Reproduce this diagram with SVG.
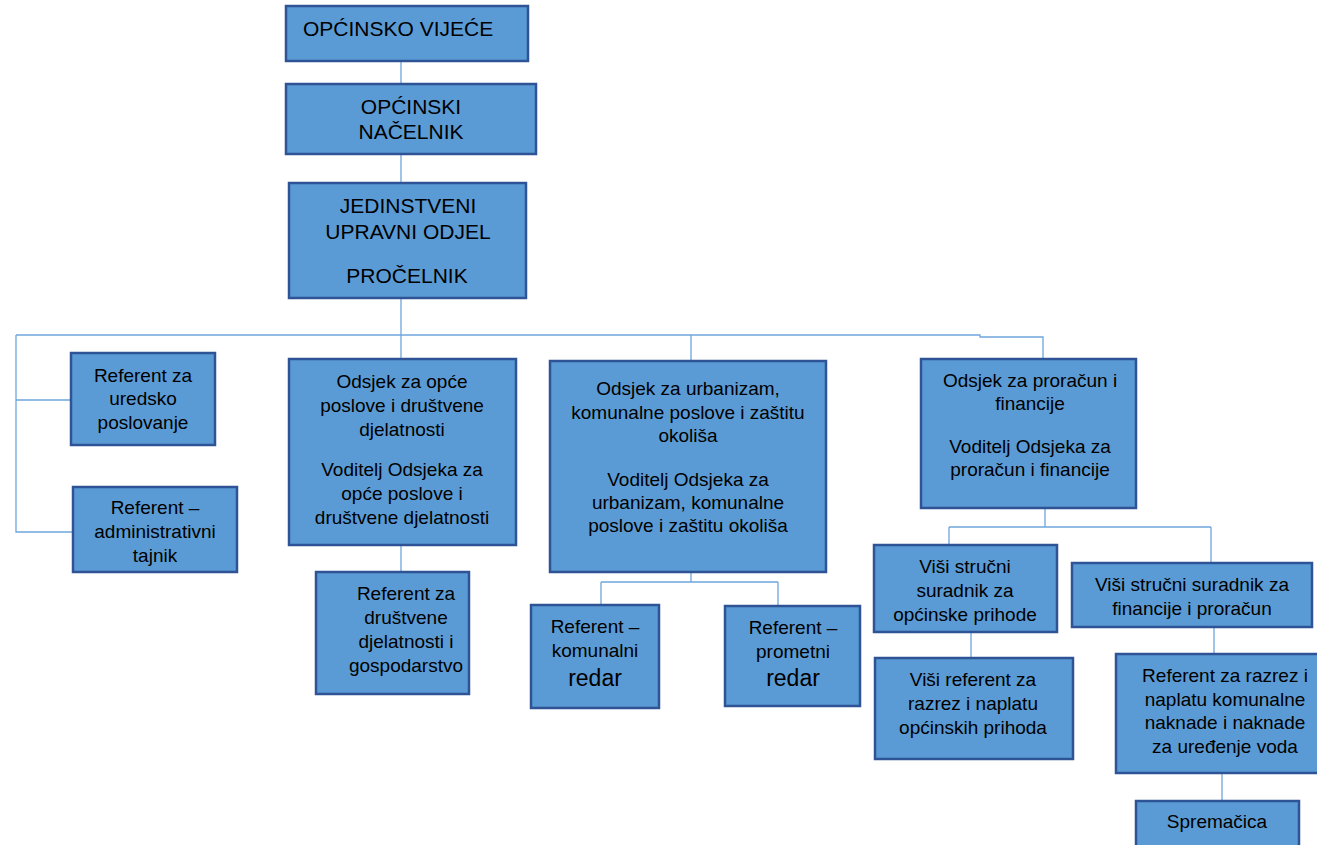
<svg xmlns="http://www.w3.org/2000/svg" width="1317" height="845" viewBox="0 0 1317 845">
<style>
.b{fill:#5B9BD5;stroke:#2F5496;stroke-width:2.5}
.t{font-family:"Liberation Sans",Arial,sans-serif;font-size:19px;fill:#000;text-anchor:middle}
.h{font-size:21px}
.r{font-size:23px}
.c{fill:none;stroke:#6FA6DC;stroke-width:1.3}
</style>
<rect width="1317" height="845" fill="#fff"/>
<g id="connectors" class="c">
<path d="M401 61V84M401 154V183M401 298V359"/>
<path d="M16 335H980V337H1043V359M691 335V361"/>
<path d="M16 335V532H73M16 400H71"/>
<path d="M401 545V572"/>
<path d="M691 572V582M601 582H778M601 582V605M778 582V606"/>
<path d="M1045 508V527M949 527H1211M949 527V545M1211 527V563"/>
<path d="M971 632V658M1214 627V654M1222 773V801"/>
</g>
<g id="vijece"><rect class="b" x="286" y="6" width="242" height="55"/><text class="t h" x="303" y="36" style="text-anchor:start">OPĆINSKO VIJEĆE</text></g>
<g id="nacelnik"><rect class="b" x="286" y="84" width="250" height="70"/><text class="t h" x="411" y="114">OPĆINSKI</text><text class="t h" x="411" y="139">NAČELNIK</text></g>
<g id="jedinstveni"><rect class="b" x="289" y="183" width="237" height="115"/><text class="t h" x="408" y="213">JEDINSTVENI</text><text class="t h" x="408" y="239">UPRAVNI ODJEL</text><text class="t h" x="407" y="283">PROČELNIK</text></g>
<g id="uredsko"><rect class="b" x="71" y="353" width="144" height="92"/><text class="t" x="143" y="382">Referent za</text><text class="t" x="143" y="405">uredsko</text><text class="t" x="143" y="429">poslovanje</text></g>
<g id="tajnik"><rect class="b" x="73" y="487" width="164" height="85"/><text class="t" x="155" y="514">Referent –</text><text class="t" x="155" y="538">administrativni</text><text class="t" x="155" y="562">tajnik</text></g>
<g id="opce"><rect class="b" x="289" y="359" width="227" height="186"/><text class="t" x="402" y="388">Odsjek za opće</text><text class="t" x="402" y="412">poslove i društvene</text><text class="t" x="402" y="436">djelatnosti</text><text class="t" x="402" y="476">Voditelj Odsjeka za</text><text class="t" x="402" y="500">opće poslove i</text><text class="t" x="402" y="524">društvene djelatnosti</text></g>
<g id="drustvene"><rect class="b" x="316" y="572" width="153" height="122"/><text class="t" x="406" y="600">Referent za</text><text class="t" x="406" y="624">društvene</text><text class="t" x="406" y="648">djelatnosti i</text><text class="t" x="406" y="672">gospodarstvo</text></g>
<g id="urbanizam"><rect class="b" x="550" y="361" width="276" height="211"/><text class="t" x="688" y="395">Odsjek za urbanizam,</text><text class="t" x="688" y="419">komunalne poslove i zaštitu</text><text class="t" x="688" y="442">okoliša</text><text class="t" x="688" y="486">Voditelj Odsjeka za</text><text class="t" x="688" y="509">urbanizam, komunalne</text><text class="t" x="688" y="532">poslove i zaštitu okoliša</text></g>
<g id="komunalni"><rect class="b" x="531" y="605" width="128" height="103"/><text class="t" x="595" y="633">Referent –</text><text class="t" x="595" y="657">komunalni</text><text class="t r" x="595" y="686">redar</text></g>
<g id="prometni"><rect class="b" x="725" y="606" width="135" height="100"/><text class="t" x="793" y="634">Referent –</text><text class="t" x="793" y="658">prometni</text><text class="t r" x="793" y="686">redar</text></g>
<g id="proracun"><rect class="b" x="921" y="359" width="215" height="149"/><text class="t" x="1030" y="387">Odsjek za proračun i</text><text class="t" x="1030" y="410">financije</text><text class="t" x="1030" y="453">Voditelj Odsjeka za</text><text class="t" x="1030" y="476">proračun i financije</text></g>
<g id="prihode"><rect class="b" x="874" y="545" width="183" height="87"/><text class="t" x="965" y="573">Viši stručni</text><text class="t" x="965" y="597">suradnik za</text><text class="t" x="965" y="621">općinske prihode</text></g>
<g id="visireferent"><rect class="b" x="875" y="658" width="198" height="101"/><text class="t" x="973" y="686">Viši referent za</text><text class="t" x="973" y="710">razrez i naplatu</text><text class="t" x="973" y="734">općinskih prihoda</text></g>
<g id="financije"><rect class="b" x="1072" y="563" width="240" height="64"/><text class="t" x="1192" y="591">Viši stručni suradnik za</text><text class="t" x="1192" y="615">financije i proračun</text></g>
<g id="razrez"><rect class="b" x="1116" y="654" width="214" height="119"/><text class="t" x="1225" y="682">Referent za razrez i</text><text class="t" x="1225" y="706">naplatu komunalne</text><text class="t" x="1225" y="729">naknade i naknade</text><text class="t" x="1225" y="753">za uređenje voda</text></g>
<g id="spremacica"><rect class="b" x="1136" y="801" width="163" height="60"/><text class="t" x="1217" y="828">Spremačica</text></g>
</svg>
